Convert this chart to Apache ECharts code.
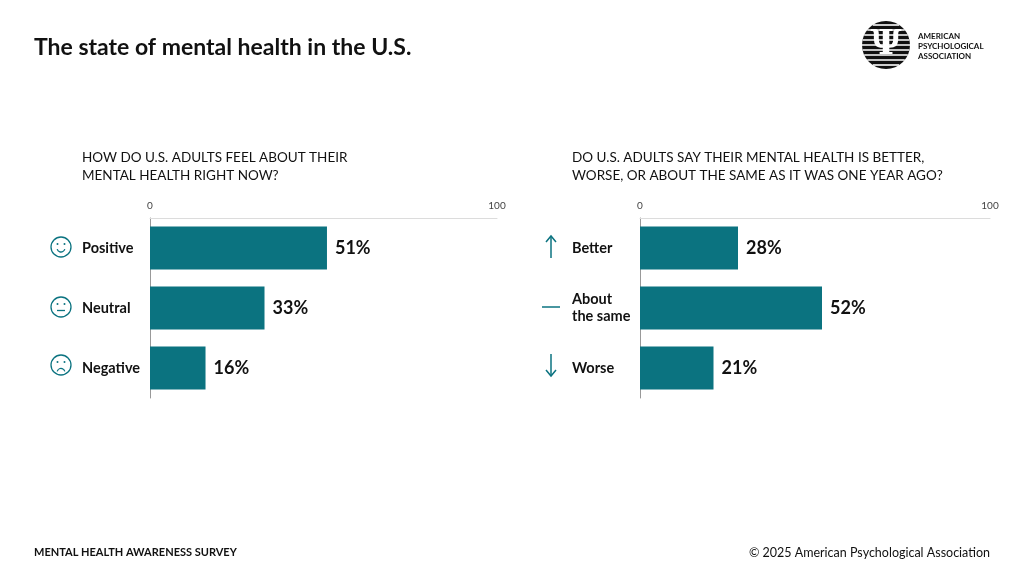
<!DOCTYPE html>
<html>
<head>
<meta charset="utf-8">
<script src="https://cdn.jsdelivr.net/npm/echarts@6/dist/echarts.min.js"></script>
<style>html,body{margin:0;background:#fff}#c{width:1024px;height:576px}</style>
</head>
<body>
<div id="c"></div>
<script>
var feelCats = ['Positive', 'Neutral', 'Negative'];
var feelVals = [51, 33, 16];
var compCats = ['Better', 'About\nthe same', 'Worse'];
var compVals = [28, 52, 21];
var teal = '#0b7380';
var font = 'Lato';

function xAx(i) {
	return {
		gridIndex: i, type: 'value', position: 'top', min: 0, max: 100, interval: 100,
		axisLine: { show: true, lineStyle: { color: '#dcdcdc', width: 1 } },
		axisTick: { show: false }, splitLine: { show: false },
		axisLabel: { color: '#444', fontSize: 10, fontFamily: font, margin: 7 }
	};
}
function yAx(i, cats) {
	return {
		gridIndex: i, type: 'category', inverse: true, data: cats,
		axisLine: { show: true, lineStyle: { color: '#999', width: 1 } },
		axisTick: { show: false },
		axisLabel: { align: 'left', margin: 68, color: '#111', fontSize: 14.5, fontWeight: 'bold', fontFamily: font, lineHeight: 17 }
	};
}
function bars(i, vals) {
	return {
		type: 'bar', xAxisIndex: i, yAxisIndex: i, data: vals, barWidth: 43,
		itemStyle: { color: teal },
		label: { show: true, position: 'right', distance: 8, formatter: '{c}%', color: '#111', fontSize: 18, fontWeight: 'bold', fontFamily: font }
	};
}
function face(y, mouth) {
	return {
		type: 'group', children: [
			{ type: 'circle', shape: { cx: 61, cy: y, r: 10 }, style: { fill: 'none', stroke: teal, lineWidth: 1.3 } },
			{ type: 'circle', shape: { cx: 57.5, cy: y - 3, r: 1 }, style: { fill: teal } },
			{ type: 'circle', shape: { cx: 64.5, cy: y - 3, r: 1 }, style: { fill: teal } },
			mouth === 0 ? { type: 'line', shape: { x1: 57, y1: y + 3.5, x2: 65, y2: y + 3.5 }, style: { stroke: teal, lineWidth: 1.3 } }
				: { type: 'arc', shape: { cx: 61, cy: mouth > 0 ? y + 1 : y + 7.5, r: 4, startAngle: mouth > 0 ? 0.3 : Math.PI + 0.3, endAngle: mouth > 0 ? Math.PI - 0.3 : 2 * Math.PI - 0.3 }, style: { stroke: teal, lineWidth: 1.3, fill: 'none' } }
		]
	};
}
var logoLines = [];
for (var k = -20; k <= 20; k += 5) {
	var hw = Math.sqrt(Math.max(0, 576 - k * k));
	logoLines.push({ type: 'line', shape: { x1: 886 - hw, y1: 45 + k, x2: 886 + hw, y2: 45 + k }, style: { stroke: '#fff', lineWidth: 1.6 } });
}
var chart = echarts.init(document.getElementById('c'));
chart.setOption({
	backgroundColor: '#fff',
	animation: false,
	title: [
		{ text: 'The state of mental health in the U.S.', left: 29, top: 31, textStyle: { fontFamily: font, fontSize: 23, fontWeight: 'bold', color: '#111' } },
		{ text: 'HOW DO U.S. ADULTS FEEL ABOUT THEIR\nMENTAL HEALTH RIGHT NOW?', left: 77, top: 144, textStyle: { fontFamily: font, fontSize: 13.5, fontWeight: 'normal', color: '#111', lineHeight: 18 } },
		{ text: 'DO U.S. ADULTS SAY THEIR MENTAL HEALTH IS BETTER,\nWORSE, OR ABOUT THE SAME AS IT WAS ONE YEAR AGO?', left: 567, top: 144, textStyle: { fontFamily: font, fontSize: 13.5, fontWeight: 'normal', color: '#111', lineHeight: 18 } },
		{ text: 'MENTAL HEALTH AWARENESS SURVEY', left: 29, top: 542, textStyle: { fontFamily: font, fontSize: 11, fontWeight: 'bold', color: '#111' } },
		{ text: '© 2025 American Psychological Association', right: 29, top: 541, textStyle: { fontFamily: font, fontSize: 12.5, fontWeight: 'normal', color: '#111' } }
	],
	grid: [
		{ left: 150, width: 347, top: 218, height: 180 },
		{ left: 640, width: 350, top: 218, height: 180 }
	],
	xAxis: [xAx(0), xAx(1)],
	yAxis: [yAx(0, feelCats), yAx(1, compCats)],
	series: [bars(0, feelVals), bars(1, compVals)],
	graphic: [
		face(247, 1), face(307, 0), face(365, -1),
		{ type: 'group', children: [
			{ type: 'line', shape: { x1: 551, y1: 236, x2: 551, y2: 258 }, style: { stroke: teal, lineWidth: 1.5 } },
			{ type: 'polyline', shape: { points: [[546, 242], [551, 236], [556, 242]] }, style: { stroke: teal, lineWidth: 1.5, fill: 'none' } },
			{ type: 'line', shape: { x1: 542, y1: 307, x2: 560, y2: 307 }, style: { stroke: teal, lineWidth: 1.5 } },
			{ type: 'line', shape: { x1: 551, y1: 354, x2: 551, y2: 376 }, style: { stroke: teal, lineWidth: 1.5 } },
			{ type: 'polyline', shape: { points: [[546, 370], [551, 376], [556, 370]] }, style: { stroke: teal, lineWidth: 1.5, fill: 'none' } }
		] },
		{ type: 'group', children: [
			{ type: 'circle', shape: { cx: 886, cy: 45, r: 24 }, style: { fill: '#111' } }
		].concat(logoLines).concat([
			{ type: 'text', style: { x: 886, y: 45, text: 'Ψ', fill: '#fff', font: 'bold 34px "DejaVu Serif"', align: 'center', verticalAlign: 'middle' } },
			{ type: 'text', style: { x: 918, y: 31, text: 'AMERICAN\nPSYCHOLOGICAL\nASSOCIATION', fill: '#111', font: 'bold 8px Lato', lineHeight: 10 } }
		]) }
	]
});
</script>
</body>
</html>
